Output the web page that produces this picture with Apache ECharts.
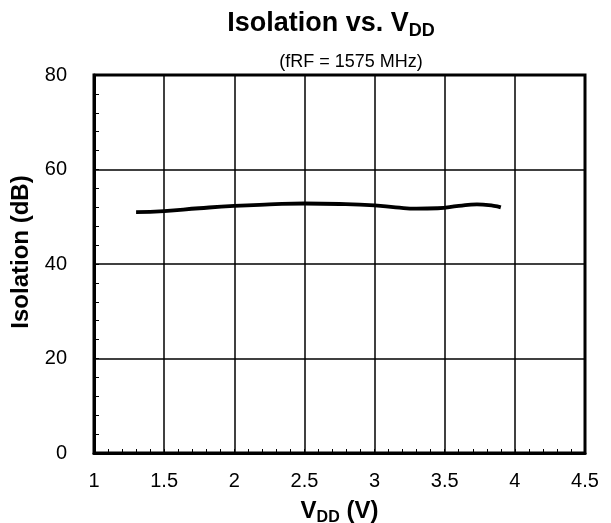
<!DOCTYPE html>
<html><head><meta charset="utf-8">
<script src="https://cdn.jsdelivr.net/npm/echarts@6/dist/echarts.min.js"></script>
<style>html,body{margin:0;padding:0;background:#fff}#c{width:611px;height:523px}</style>
</head><body><div id="c"></div>
<script>
const vdd = [1.3, 1.5, 1.75, 2.0, 2.25, 2.5, 2.75, 3.0, 3.15, 3.3, 3.45, 3.6, 3.73, 3.85, 3.9];
const isolation = [51.0, 51.2, 51.8, 52.3, 52.6, 52.8, 52.7, 52.4, 52.0, 51.7, 51.8, 52.3, 52.6, 52.3, 52.0];
const xTicks = [1, 1.5, 2, 2.5, 3, 3.5, 4, 4.5];
const yTicks = [0, 20, 40, 60, 80];

const chart = echarts.init(document.getElementById('c'));
const F = 'Arial, "Liberation Sans", sans-serif';
chart.setOption({
  animation: false,
  title: [{
    text: '{a|Isolation vs. V}{s|DD}',
    left: 326, top: 2, textAlign: 'center',
    textStyle: { rich: {
      a: { fontFamily: F, fontSize: 27, fontWeight: 'bold', color: '#000', lineHeight: 33 },
      s: { fontFamily: F, fontSize: 18, fontWeight: 'bold', color: '#000', lineHeight: 33, padding: [16, 0, 0, 0] }
    } }
  }, {
    text: '(fRF = 1575 MHz)', left: 346, top: 48, textAlign: 'center',
    textStyle: { fontFamily: F, fontSize: 18, fontWeight: 'normal', color: '#000' }
  }],
  grid: { left: 94, right: 26, top: 75, bottom: 70, containLabel: false, outerBoundsMode: 'none',
    show: true, borderColor: '#000', borderWidth: 3, backgroundColor: 'transparent' },
  xAxis: {
    type: 'value', min: 1, max: 4.5, interval: 0.5,
    name: '{a|V}{s|DD}{a| (V)}', nameLocation: 'middle', nameGap: 37,
    nameTextStyle: { rich: {
      a: { fontFamily: F, fontSize: 24, fontWeight: 'bold', color: '#000', lineHeight: 30 },
      s: { fontFamily: F, fontSize: 16, fontWeight: 'bold', color: '#000', lineHeight: 30, padding: [14, 0, 0, 0] }
    } },
    axisLine: { show: true, lineStyle: { color: '#000', width: 3 } },
    axisTick: { show: true, inside: true, length: 4, lineStyle: { color: '#000', width: 1 } },
    minorTick: { show: true, splitNumber: 5, length: 4, lineStyle: { color: '#000', width: 1 } },
    splitLine: { show: true, lineStyle: { color: '#000', width: 1.5 } },
    axisLabel: { color: '#000', fontFamily: F, fontSize: 20, margin: 18,
      formatter: v => xTicks.includes(+v.toFixed(1)) ? String(v) : '' }
  },
  yAxis: {
    type: 'value', min: 0, max: 80, interval: 20,
    name: 'Isolation (dB)', nameLocation: 'middle', nameGap: 56, nameRotate: 90,
    nameTextStyle: { fontFamily: F, fontSize: 24, fontWeight: 'bold', color: '#000', padding: [0, 0, 0, 24] },
    axisLine: { show: true, lineStyle: { color: '#000', width: 3 } },
    axisTick: { show: true, inside: true, length: 5, lineStyle: { color: '#000', width: 1 } },
    minorTick: { show: true, splitNumber: 5, length: 5, lineStyle: { color: '#000', width: 1 } },
    splitLine: { show: true, lineStyle: { color: '#000', width: 1.5 } },
    axisLabel: { color: '#000', fontFamily: F, fontSize: 20, margin: 27,
      formatter: v => yTicks.includes(v) ? String(v) : '' }
  },
  series: [{
    type: 'line', smooth: true, symbol: 'none',
    data: vdd.map((x, i) => [x, isolation[i]]),
    lineStyle: { color: '#000', width: 3.8 }
  }]
});
</script></body></html>
